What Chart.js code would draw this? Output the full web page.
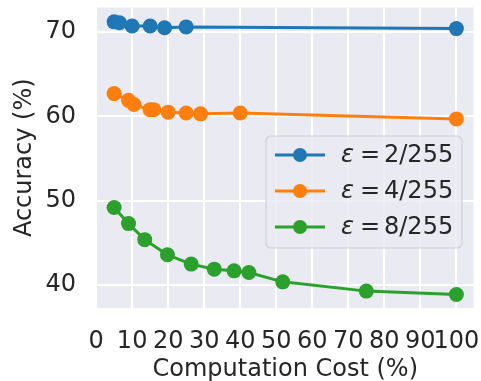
<!DOCTYPE html>
<html>
<head>
<meta charset="utf-8">
<script src="https://cdn.jsdelivr.net/npm/chart.js@4/dist/chart.umd.min.js"></script>
<style>
  html, body { margin: 0; padding: 0; background: #ffffff; }
  #wrap { width: 481px; height: 381px; }
</style>
</head>
<body>
<div id="wrap"><canvas id="c" width="481" height="381"></canvas></div>
<script>
const costEps2 = [5, 6.5, 10, 15, 19, 25, 100];
const accEps2 = [71.2, 71.1, 70.7, 70.7, 70.5, 70.6, 70.4];
const costEps4 = [5, 9, 10.5, 15, 16, 20, 25, 29, 40, 100];
const accEps4 = [62.7, 61.9, 61.4, 60.8, 60.8, 60.5, 60.4, 60.3, 60.4, 59.7];
const costEps8 = [5, 9, 13.5, 19.8, 26.4, 32.8, 38.3, 42.4, 51.8, 75, 100];
const accEps8 = [49.2, 47.3, 45.4, 43.6, 42.5, 41.9, 41.7, 41.5, 40.4, 39.3, 38.9];
const seriesLabels = ['2/255', '4/255', '8/255'];
const xTicks = [0, 10, 20, 30, 40, 50, 60, 70, 80, 90, 100];
const yTicks = [40, 50, 60, 70];

const colors = ['#1f77b4', '#ff7f0e', '#2ca02c'];
const FONT = "'DejaVu Sans', sans-serif";
const TEXT = '#262626';

function pts(xs, ys) { return xs.map((x, i) => ({x: x, y: ys[i]})); }

const datasets = [
  [costEps2, accEps2], [costEps4, accEps4], [costEps8, accEps8]
].map((d, i) => ({
  label: 'ε = ' + seriesLabels[i],
  data: pts(d[0], d[1]),
  borderColor: colors[i],
  backgroundColor: colors[i],
  borderWidth: 3,
  pointRadius: 7.5,
  pointHoverRadius: 7.5,
  pointBorderWidth: 0,
  tension: 0,
  fill: false
}));

const bgPlugin = {
  id: 'bg',
  beforeDraw(chart) {
    const {ctx, chartArea: a} = chart;
    ctx.save();
    ctx.fillStyle = '#EAEAF2';
    ctx.fillRect(a.left, a.top, a.right - a.left, a.bottom - a.top);
    ctx.restore();
  }
};

const legendPlugin = {
  id: 'mylegend',
  afterDraw(chart) {
    const ctx = chart.ctx;
    const x0 = 266, y0 = 136, w = 196, h = 112;
    ctx.save();
    ctx.beginPath();
    if (ctx.roundRect) ctx.roundRect(x0, y0, w, h, 5); else ctx.rect(x0, y0, w, h);
    ctx.fillStyle = 'rgba(234,234,242,0.8)';
    ctx.fill();
    ctx.lineWidth = 1.2;
    ctx.strokeStyle = '#cfcfd6';
    ctx.stroke();
    const rows = [155, 191, 227];
    chart.data.datasets.forEach((ds, i) => {
      const y = rows[i];
      ctx.strokeStyle = ds.borderColor;
      ctx.lineWidth = 3;
      ctx.beginPath();
      ctx.moveTo(275, y);
      ctx.lineTo(325, y);
      ctx.stroke();
      ctx.fillStyle = ds.borderColor;
      ctx.beginPath();
      ctx.arc(300, y, 7, 0, Math.PI * 2);
      ctx.fill();
      ctx.fillStyle = TEXT;
      ctx.textBaseline = 'middle';
      ctx.textAlign = 'left';
      ctx.font = "italic 24px " + FONT;
      ctx.fillText('ε', 341, y + 1);
      ctx.font = "24px " + FONT;
      ctx.fillText('=', 360, y + 1);
      ctx.fillText(seriesLabels[i], 384, y + 1);
    });
    ctx.restore();
  }
};

new Chart(document.getElementById('c'), {
  type: 'line',
  data: { datasets: datasets },
  options: {
    responsive: false,
    animation: false,
    devicePixelRatio: 1,
    layout: { padding: { left: 0, right: 7, top: 6, bottom: 0 } },
    plugins: { legend: { display: false }, tooltip: { enabled: false } },
    scales: {
      x: {
        type: 'linear',
        min: 0.25,
        max: 104.75,
        afterBuildTicks(s) { s.ticks = xTicks.map(v => ({value: v})); },
        afterFit(s) { s.height = 73; s.paddingLeft = 0; s.paddingRight = 0; },
        grid: { color: '#ffffff', lineWidth: 2, drawTicks: false },
        border: { display: false },
        ticks: {
          color: TEXT, font: { family: FONT, size: 24 }, padding: 19,
          maxRotation: 0, autoSkip: false
        },
        title: {
          display: true, text: 'Computation Cost (%)', color: TEXT,
          font: { family: FONT, size: 24 }, padding: { top: 0, bottom: -3 }
        }
      },
      y: {
        type: 'linear',
        min: 37.3,
        max: 72.9,
        afterBuildTicks(s) { s.ticks = yTicks.map(v => ({value: v})); },
        afterFit(s) { s.width = 97; s.paddingTop = 0; s.paddingBottom = 0; },
        grid: { color: '#ffffff', lineWidth: 2, drawTicks: false },
        border: { display: false },
        ticks: { color: TEXT, font: { family: FONT, size: 24 }, padding: 21 },
        title: {
          display: true, text: 'Accuracy (%)', color: TEXT,
          font: { family: FONT, size: 24 }, padding: { top: 10, bottom: 0 }
        }
      }
    }
  },
  plugins: [bgPlugin, legendPlugin]
});
</script>
</body>
</html>
